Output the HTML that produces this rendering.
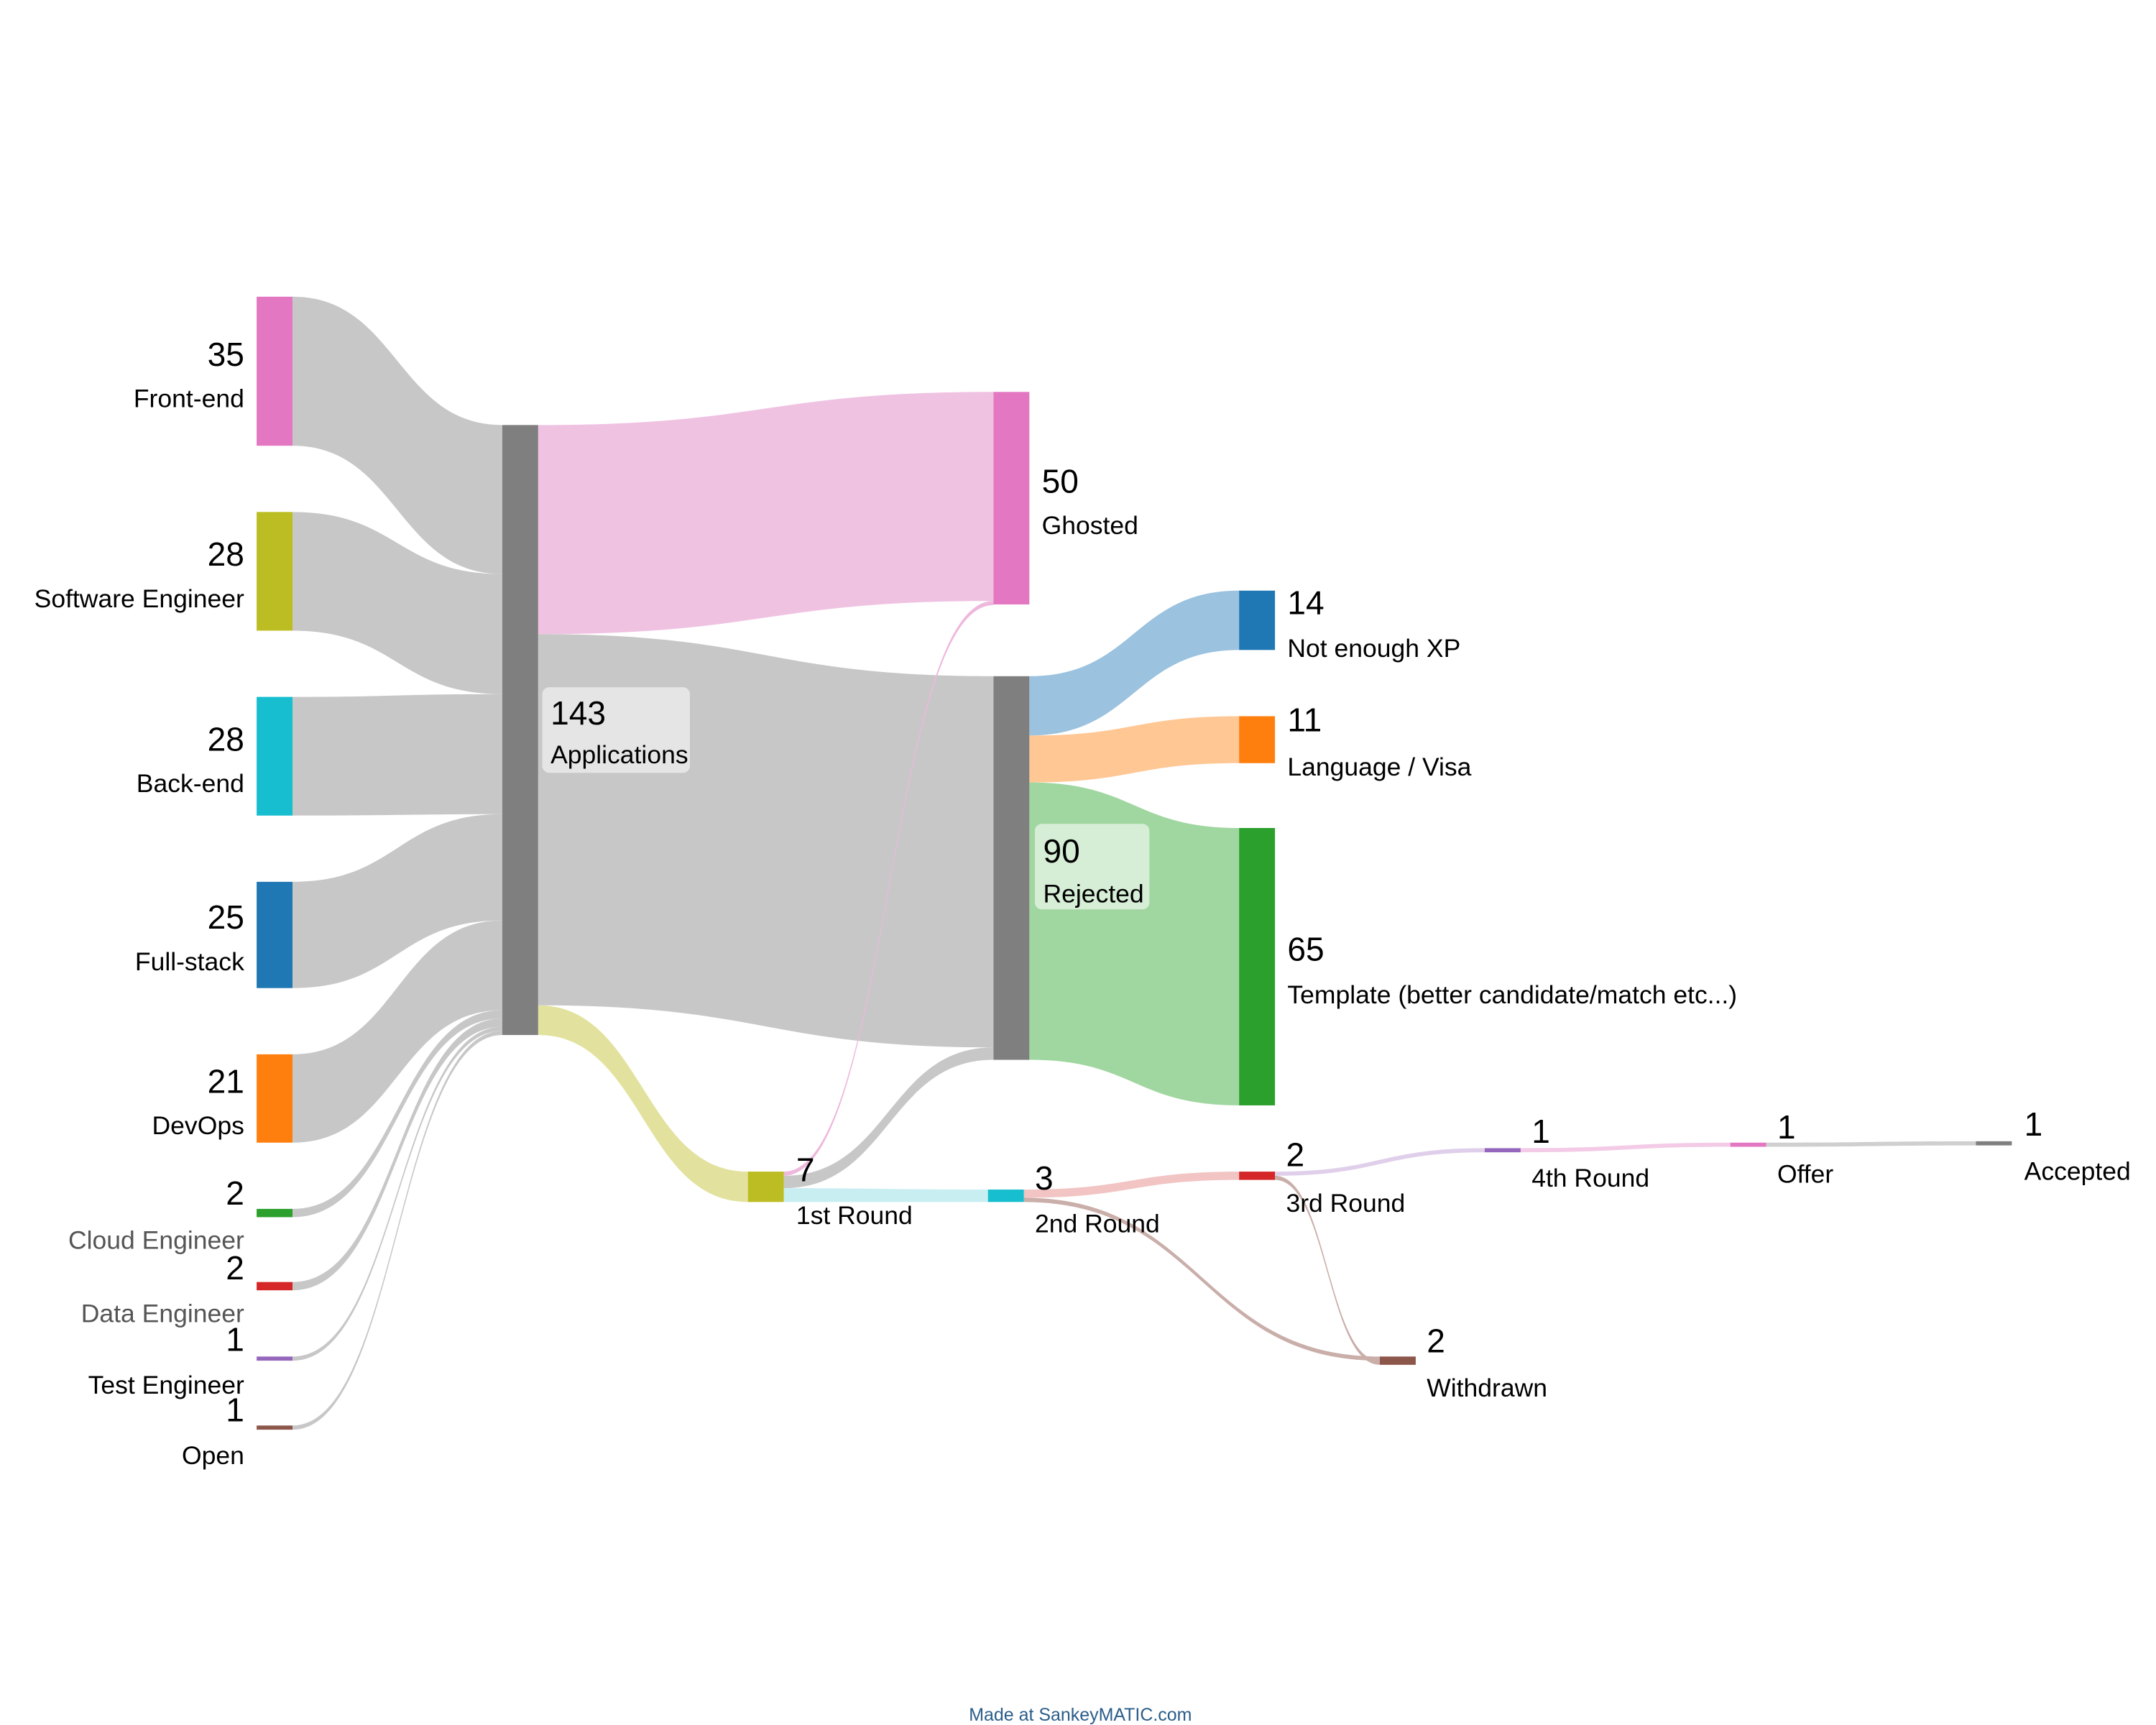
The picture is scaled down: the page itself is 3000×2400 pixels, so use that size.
<!DOCTYPE html>
<html><head><meta charset="utf-8"><style>
html,body{margin:0;padding:0;background:#fff;}
svg{display:block;}
text{font-family:"Liberation Sans",Arial,sans-serif;fill:#000;}
.n{font-size:24px;}
.l{font-size:18.5px;}
</style></head><body>
<svg width="3000" height="2400" viewBox="0 0 1562.5 1250" xmlns="http://www.w3.org/2000/svg">
<rect width="1562.5" height="1250" fill="#fff"/>
<g fill="#c4c4c4" fill-opacity="0.95">
<path d="M212,215 C288,215 288,308 364,308 L364,416 C288,416 288,323 212,323 Z"/>
<path d="M212,371 C288,371 288,416 364,416 L364,503 C288,503 288,457 212,457 Z"/>
<path d="M212,505 C288,505 288,503 364,503 L364,590 C288,590 288,591 212,591 Z"/>
<path d="M212,639 C288,639 288,590 364,590 L364,667 C288,667 288,716 212,716 Z"/>
<path d="M212,764 C288,764 288,667 364,667 L364,732 C288,732 288,828 212,828 Z"/>
<path d="M212,876 C288,876 288,732 364,732 L364,738 C288,738 288,882 212,882 Z"/>
<path d="M212,929 C288,929 288,738 364,738 L364,744 C288,744 288,935 212,935 Z"/>
<path d="M212,983 C288,983 288,744 364,744 L364,747 C288,747 288,986 212,986 Z"/>
<path d="M212,1033 C288,1033 288,747 364,747 L364,750 C288,750 288,1036 212,1036 Z"/>
<path d="M390,459.5 C555,459.5 555,490 720,490 L720,759 C555,759 555,728.5 390,728.5 Z"/>
<path d="M568,852 C644,852 644,759 720,759 L720,768 C644,768 644,861 568,861 Z"/>
</g>
<path d="M390,308 C555,308 555,284 720,284 L720,435.5 C555,435.5 555,459.5 390,459.5 Z" fill="#f0c2e2"/>
<path d="M390,728.5 C466,728.5 466,849 542,849 L542,871 C466,871 466,750 390,750 Z" fill="#e2e29e"/>
<path d="M568,849 C644,849 644,435.5 720,435.5 L720,438.5 C644,438.5 644,852 568,852 Z" fill="#eeb8dc"/>
<path d="M568,861 C642,861 642,862 716,862 L716,871 C642,871 642,871 568,871 Z" fill="#c8eef2"/>
<path d="M746,490 C822,490 822,428 898,428 L898,471 C822,471 822,533 746,533 Z" fill="#9bc2de"/>
<path d="M746,533 C822,533 822,519 898,519 L898,553 C822,553 822,567 746,567 Z" fill="#ffc794"/>
<path d="M746,567 C822,567 822,600 898,600 L898,801 C822,801 822,768 746,768 Z" fill="#a0d6a0"/>
<path d="M742,862 C820,862 820,849 898,849 L898,855 C820,855 820,868 742,868 Z" fill="#f2c4c4"/>
<path d="M742,868 C871,868 871,983 1000,983 L1000,986 C871,986 871,871 742,871 Z" fill="#c9aea9"/>
<path d="M924,852 C962,852 962,986 1000,986 L1000,989 C962,989 962,855 924,855 Z" fill="#c9aea9"/>
<path d="M924,849 C1000,849 1000,832 1076,832 L1076,835 C1000,835 1000,852 924,852 Z" fill="#e0cfea"/>
<path d="M1102,832 C1178,832 1178,828 1254,828 L1254,831 C1178,831 1178,835 1102,835 Z" fill="#f3cbe6"/>
<path d="M1280,828 C1356,828 1356,827 1432,827 L1432,830 C1356,830 1356,831 1280,831 Z" fill="#cfcfcf"/>
<rect x="186" y="215" width="26" height="108" fill="#e377c2"/>
<rect x="186" y="371" width="26" height="86" fill="#bcbd22"/>
<rect x="186" y="505" width="26" height="86" fill="#17becf"/>
<rect x="186" y="639" width="26" height="77" fill="#1f77b4"/>
<rect x="186" y="764" width="26" height="64" fill="#ff7f0e"/>
<rect x="186" y="876" width="26" height="6" fill="#2ca02c"/>
<rect x="186" y="929" width="26" height="6" fill="#d62728"/>
<rect x="186" y="983" width="26" height="3" fill="#9467bd"/>
<rect x="186" y="1033" width="26" height="3" fill="#8c564b"/>
<rect x="364" y="308" width="26" height="442" fill="#7f7f7f"/>
<rect x="720" y="284" width="26" height="154" fill="#e377c2"/>
<rect x="720" y="490" width="26" height="278" fill="#7f7f7f"/>
<rect x="542" y="849" width="26" height="22" fill="#bcbd22"/>
<rect x="898" y="428" width="26" height="43" fill="#1f77b4"/>
<rect x="898" y="519" width="26" height="34" fill="#ff7f0e"/>
<rect x="898" y="600" width="26" height="201" fill="#2ca02c"/>
<rect x="716" y="862" width="26" height="9" fill="#17becf"/>
<rect x="898" y="849" width="26" height="6" fill="#d62728"/>
<rect x="1000" y="983" width="26" height="6" fill="#8c564b"/>
<rect x="1076" y="832" width="26" height="3" fill="#9467bd"/>
<rect x="1254" y="828" width="26" height="3" fill="#e377c2"/>
<rect x="1432" y="827" width="26" height="3" fill="#7f7f7f"/>
<rect x="393" y="498" width="107" height="62" rx="5" fill="#e5e5e5"/>
<rect x="750" y="597" width="83" height="62" rx="5" fill="#d6edd6"/>
<g text-anchor="end">
<text class="n" x="177" y="265">35</text><text class="l" x="177" y="295">Front-end</text>
<text class="n" x="177" y="410">28</text><text class="l" x="177" y="440">Software Engineer</text>
<text class="n" x="177" y="544">28</text><text class="l" x="177" y="574">Back-end</text>
<text class="n" x="177" y="673">25</text><text class="l" x="177" y="703">Full-stack</text>
<text class="n" x="177" y="792">21</text><text class="l" x="177" y="822">DevOps</text>
<text class="n" x="177" y="873">2</text><text class="l" x="177" y="905" style="fill:#555">Cloud Engineer</text>
<text class="n" x="177" y="927">2</text><text class="l" x="177" y="958" style="fill:#555">Data Engineer</text>
<text class="n" x="177" y="979">1</text><text class="l" x="177" y="1010">Test Engineer</text>
<text class="n" x="177" y="1030">1</text><text class="l" x="177" y="1061">Open</text>
</g>
<text class="n" x="399" y="525">143</text><text class="l" x="399" y="553">Applications</text>
<text class="n" x="755" y="357">50</text><text class="l" x="755" y="387">Ghosted</text>
<text class="n" x="756" y="625">90</text><text class="l" x="756" y="654">Rejected</text>
<text class="n" x="933" y="445">14</text><text class="l" x="933" y="476">Not enough XP</text>
<text class="n" x="933" y="530">11</text><text class="l" x="933" y="562">Language / Visa</text>
<text class="n" x="933" y="696">65</text><text class="l" x="933" y="727">Template (better candidate/match etc...)</text>
<text class="n" x="577" y="856">7</text><text class="l" x="577" y="887">1st Round</text>
<text class="n" x="750" y="862">3</text><text class="l" x="750" y="893">2nd Round</text>
<text class="n" x="932" y="845">2</text><text class="l" x="932" y="878">3rd Round</text>
<text class="n" x="1034" y="980">2</text><text class="l" x="1034" y="1012">Withdrawn</text>
<text class="n" x="1110" y="828">1</text><text class="l" x="1110" y="860">4th Round</text>
<text class="n" x="1288" y="825">1</text><text class="l" x="1288" y="857">Offer</text>
<text class="n" x="1467" y="823">1</text><text class="l" x="1467" y="855">Accepted</text>
<text x="783" y="1247" text-anchor="middle" style="font-size:13px;fill:#2a5d8a">Made at SankeyMATIC.com</text>
</svg>
</body></html>
